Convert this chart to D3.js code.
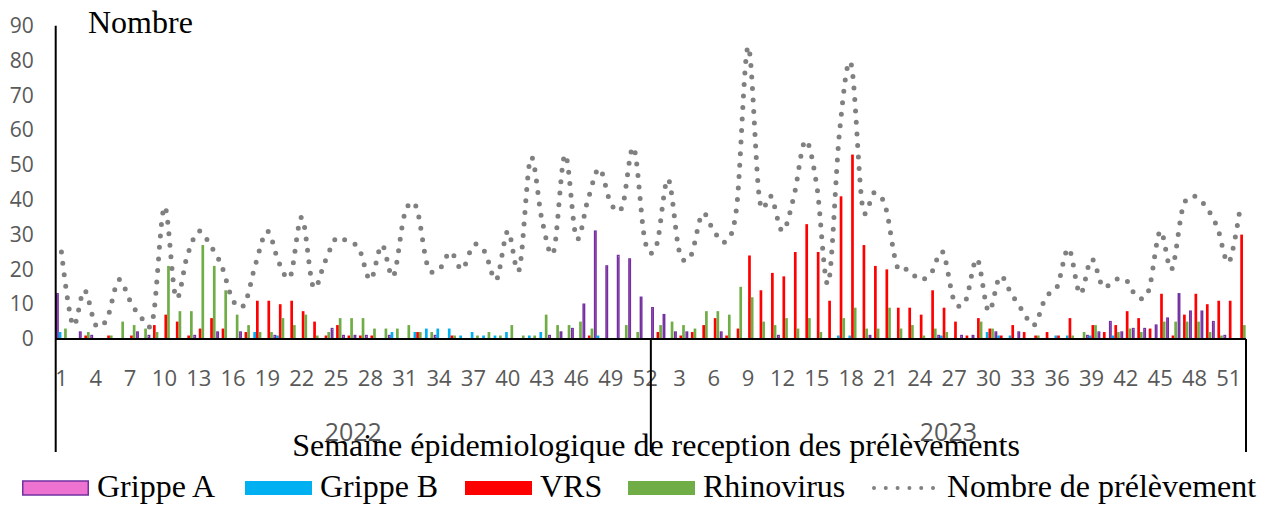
<!DOCTYPE html>
<html>
<head>
<meta charset="utf-8">
<script src="https://cdn.jsdelivr.net/npm/d3@7"></script>
<style>
  body { margin: 0; background: #ffffff; }
  svg { display: block; }
</style>
</head>
<body>
<svg id="chart" width="1275" height="509"></svg>
<script>
// Epidemiological weeks, two seasons
const years = ["2022", "2023"];
const weeks2022 = [1,2,3,4,5,6,7,8,9,10,11,12,13,14,15,16,17,18,19,20,21,22,23,24,25,26,27,28,29,30,31,32,33,34,35,36,37,38,39,40,41,42,43,44,45,46,47,48,49,50,51,52];
const weeks2023 = [1,2,3,4,5,6,7,8,9,10,11,12,13,14,15,16,17,18,19,20,21,22,23,24,25,26,27,28,29,30,31,32,33,34,35,36,37,38,39,40,41,42,43,44,45,46,47,48,49,50,51,52];

const yTicks = [0, 10, 20, 30, 40, 50, 60, 70, 80, 90];

// Positive samples per virus, per week
const grippeA2022 = [13,0,2,1,0,0,0,2,1,0, 0,0,1,0,2,0,2,0,0,1, 0,0,0,0,3,1,1,1,0,1, 0,0,0,1,0,0,0,0,0,0, 0,0,0,1,2,3,10,31,21,24, 23,12];
const grippeA2023 = [9,7,2,2,0,0,2,0,0,0, 0,1,0,0,0,0,0,0,0,1, 0,0,0,0,0,1,0,1,1,0, 2,0,2,0,0,0,0,0,1,2, 5,2,3,3,4,6,13,8,8,5, 1,0];

const grippeB2022 = [2,0,0,0,0,0,0,0,0,0, 0,0,0,0,0,0,0,2,0,1, 0,0,0,0,0,0,0,0,0,2, 0,2,3,3,3,1,2,1,1,2, 0,1,2,0,0,0,0,1,0,0, 0,0];
const grippeB2023 = [0,0,0,0,0,0,0,0,0,0, 0,0,0,0,0,0,1,1,0,0, 0,0,0,0,0,1,0,0,0,2, 1,1,0,0,0,1,1,0,1,0, 1,0,0,0,0,0,0,0,0,0, 0,0];

const vrs2022 = [0,0,1,0,1,0,1,0,4,7, 5,1,3,6,3,0,2,11,11,10, 11,8,5,1,4,1,1,1,0,0, 0,2,0,0,1,0,0,0,0,0, 0,0,0,0,0,0,1,0,0,0, 0,0];
const vrs2023 = [2,0,1,2,4,6,1,3,24,14, 19,18,25,33,25,11,41,53,27,21, 20,9,9,7,14,9,5,1,6,3, 1,4,2,1,2,1,6,0,4,2, 4,8,6,3,13,1,7,13,10,11, 11,30];

const rhino2022 = [3,0,2,0,1,5,4,3,2,21, 8,8,27,21,14,7,4,2,2,6, 4,7,1,2,6,6,6,3,3,3, 4,2,2,0,1,0,1,2,1,4, 1,1,7,4,4,5,3,0,0,4, 2,0];
const rhino2023 = [4,5,4,3,8,8,7,15,12,5, 4,6,3,6,2,0,6,9,3,3, 9,3,4,1,3,2,0,0,5,3, 0,0,0,1,0,0,1,2,4,0, 2,3,2,0,5,5,5,5,2,1, 0,4];

// Total samples received per week
const samples2022 = [25,4,14,4,6,17,11,6,6,38, 12,24,31,27,21,11,10,22,31,22, 18,35,15,22,29,28,26,17,27,18, 36,38,21,20,25,20,27,25,17,31, 20,52,34,25,53,29,40,49,39,38, 55,28];
const samples2023 = [27,46,25,24,36,31,28,38,84,40, 41,31,41,57,44,16,60,79,38,42, 38,21,20,17,19,25,11,11,23,8, 18,13,8,4,12,15,26,13,23,15, 17,17,12,14,31,20,38,41,38,32, 22,38];

const seriesNames = ["Grippe A", "Grippe B", "VRS", "Rhinovirus"];
const lineName = "Nombre de prélèvement";

// ---- build the working table
const weekLabels = weeks2022.concat(weeks2023);
const seriesValues = [
  grippeA2022.concat(grippeA2023),
  grippeB2022.concat(grippeB2023),
  vrs2022.concat(vrs2023),
  rhino2022.concat(rhino2023)
];
const samples = samples2022.concat(samples2023);
const idx = d3.range(weekLabels.length);

const fills   = ["#EE72CF", "#00B0F0", "#FF0000", "#70AD47"];
const strokes = ["#7030A0", null, null, null];

const W = 1275, H = 509;
const plotL = 55.7, plotR = 1246, baseY = 339;
const svg = d3.select("#chart");
svg.append("rect").attr("width", W).attr("height", H).attr("fill", "#ffffff");

const y = d3.scaleLinear().domain([0, 90]).range([baseY, 25.8]);
const x0 = d3.scaleBand().domain(idx).range([plotL, plotR]).paddingInner(0.06).paddingOuter(0.03);
const x1 = d3.scaleBand().domain(d3.range(seriesNames.length)).range([0, x0.bandwidth()]);

const SANS = "'Open Sans', 'Noto Sans', sans-serif";
const SERIF = "'Liberation Serif', 'Times New Roman', serif";
const GREY_TEXT = "#595959";

// ---- bars
const bars = svg.append("g");
seriesNames.forEach((name, s) => {
  bars.append("g").selectAll("rect")
    .data(idx.filter(i => seriesValues[s][i] > 0))
    .join("rect")
    .attr("x", i => x0(i) + x1(s) + (strokes[s] ? 0.6 : 0))
    .attr("y", i => y(seriesValues[s][i]))
    .attr("width", x1.bandwidth() - (strokes[s] ? 1.2 : 0))
    .attr("height", i => baseY - y(seriesValues[s][i]))
    .attr("fill", fills[s])
    .attr("stroke", strokes[s] || "none")
    .attr("stroke-width", strokes[s] ? 1.4 : 0);
});

// ---- dotted line for total samples
const line = d3.line()
  .x(i => x0(i) + x0.bandwidth() / 2)
  .y(i => y(samples[i]))
  .curve(d3.curveCatmullRom.alpha(0));
svg.append("path")
  .attr("d", line(idx))
  .attr("fill", "none")
  .attr("stroke", "#808080")
  .attr("stroke-width", 5)
  .attr("stroke-linecap", "round")
  .attr("stroke-dasharray", "0 11.5");

// ---- y axis labels
const yAxis = svg.append("g")
  .attr("transform", `translate(${plotL},0)`)
  .call(d3.axisLeft(y).tickValues(yTicks).tickSize(0).tickPadding(22));
yAxis.select(".domain").remove();
yAxis.selectAll("text")
  .attr("font-family", SANS).attr("font-size", 21).attr("fill", GREY_TEXT);

// ---- x axis labels (every third week)
const xAxis = svg.append("g")
  .attr("transform", `translate(0,${baseY})`)
  .call(d3.axisBottom(x0)
    .tickValues(idx.filter(i => i % 3 === 0))
    .tickFormat(i => weekLabels[i])
    .tickSize(0).tickPadding(31));
xAxis.select(".domain").remove();
xAxis.selectAll("text")
  .attr("font-family", SANS).attr("font-size", 22).attr("fill", GREY_TEXT);

// ---- axis and season boundary lines
const boundary = x0(52) - x0.step() * x0.paddingInner() / 2;
const axisLines = svg.append("g").attr("stroke", "#000").attr("stroke-width", 2).attr("fill", "none");
axisLines.append("line").attr("x1", plotL).attr("x2", plotR).attr("y1", baseY).attr("y2", baseY);
axisLines.append("line").attr("x1", plotL).attr("x2", plotL).attr("y1", y(90)).attr("y2", 452);
axisLines.append("line").attr("x1", boundary).attr("x2", boundary).attr("y1", baseY).attr("y2", 452);
axisLines.append("line").attr("x1", plotR).attr("x2", plotR).attr("y1", baseY).attr("y2", 452);

// ---- year group labels
const groupCenters = [(plotL + boundary) / 2, (boundary + plotR) / 2];
svg.append("g").selectAll("text").data(years).join("text")
  .attr("x", (d, i) => groupCenters[i])
  .attr("y", 441)
  .attr("text-anchor", "middle")
  .attr("font-family", SANS).attr("font-size", 25).attr("fill", GREY_TEXT)
  .text(d => d);

// ---- titles
svg.append("text")
  .attr("x", 88).attr("y", 33)
  .attr("font-family", SERIF).attr("font-size", 32).attr("fill", "#000")
  .text("Nombre");
svg.append("text")
  .attr("x", 656).attr("y", 456)
  .attr("text-anchor", "middle")
  .attr("font-family", SERIF).attr("font-size", 32).attr("fill", "#000")
  .text("Semaine épidemiologique de reception des prélèvements");

// ---- legend
const legendX = [22, 245, 465, 628];
const legend = svg.append("g");
seriesNames.forEach((name, s) => {
  legend.append("rect")
    .attr("x", legendX[s] + (strokes[s] ? 0.75 : 0)).attr("y", 481)
    .attr("width", 67 - (strokes[s] ? 1.5 : 0)).attr("height", 14)
    .attr("fill", fills[s])
    .attr("stroke", strokes[s] || "none").attr("stroke-width", strokes[s] ? 1.5 : 0);
  legend.append("text")
    .attr("x", legendX[s] + 75).attr("y", 497)
    .attr("font-family", SERIF).attr("font-size", 32).attr("fill", "#000")
    .text(name);
});
legend.append("line")
  .attr("x1", 874).attr("x2", 934).attr("y1", 488).attr("y2", 488)
  .attr("stroke", "#808080").attr("stroke-width", 4)
  .attr("stroke-linecap", "round").attr("stroke-dasharray", "0 11.8");
legend.append("text")
  .attr("x", 947).attr("y", 497)
  .attr("font-family", SERIF).attr("font-size", 32).attr("fill", "#000")
  .text(lineName);
</script>
</body>
</html>
